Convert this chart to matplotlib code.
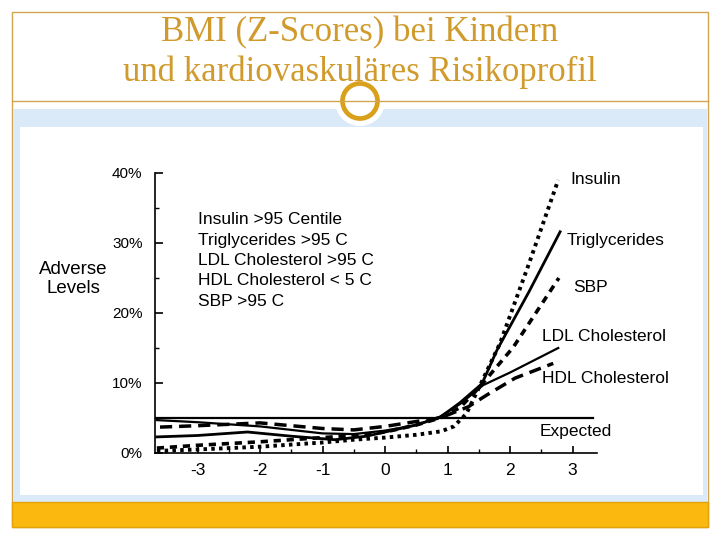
"""Slide: BMI z-score vs. share of children with adverse cardiovascular risk levels."""

import matplotlib

matplotlib.use("Agg")
import matplotlib.pyplot as plt
from matplotlib.patches import Circle, Rectangle
from matplotlib.ticker import MultipleLocator, FuncFormatter

plt.rcParams["font.family"] = ["Liberation Sans", "DejaVu Sans"]
plt.rcParams["axes.unicode_minus"] = False

# BMI z-score (x) vs. % of children with adverse levels (y)
insulin_z = [-3.65, -3.0, -2.0, -1.0, -0.5, 0.0, 0.5, 0.9, 1.1, 1.3, 1.5, 1.84, 2.3, 2.77]
insulin_pct = [0.3, 0.5, 0.9, 1.5, 1.9, 2.2, 2.6, 3.1, 3.8, 5.6, 9.3, 15.7, 27.0, 39.0]

trig_z = [-3.65, -3.0, -2.2, -1.5, -0.8, -0.3, 0.0, 0.5, 0.88, 1.2, 1.55, 1.79, 2.3, 2.8]
trig_pct = [2.3, 2.5, 3.0, 2.4, 1.9, 2.4, 3.0, 4.0, 5.1, 7.2, 9.9, 14.7, 23.0, 31.6]

ldl_z = [-3.65, -3.0, -2.0, -1.0, -0.5, 0.0, 0.5, 0.88, 1.2, 1.57, 2.0, 2.77]
ldl_pct = [4.7, 4.4, 3.8, 2.8, 2.7, 3.2, 4.0, 5.2, 7.0, 9.7, 11.5, 15.0]

hdl_z = [-3.6, -3.0, -2.0, -1.5, -1.0, -0.5, 0.0, 0.5, 0.88, 1.33, 1.63, 2.08, 2.69]
hdl_pct = [3.7, 3.9, 4.3, 3.9, 3.5, 3.3, 3.8, 4.5, 5.0, 6.6, 8.3, 10.7, 12.8]

sbp_z = [-3.65, -3.0, -2.0, -1.0, -0.5, 0.0, 0.5, 0.88, 1.2, 1.5, 2.05, 2.78]
sbp_pct = [0.7, 1.1, 1.6, 2.2, 2.5, 3.0, 4.0, 5.0, 6.5, 9.3, 15.1, 25.0]

expected_z = [-3.68, 3.33]
expected_pct = [5.0, 5.0]

legend_lines = [
    "Insulin >95 Centile",
    "Triglycerides >95 C",
    "LDL Cholesterol >95 C",
    "HDL Cholesterol < 5 C",
    "SBP >95 C",
]

title_lines = ["BMI (Z-Scores) bei Kindern", "und kardiovaskuläres Risikoprofil"]

GOLD = "#D09B2C"
FRAME = "#D2A650"
BLUE = "#DAEAF8"
BAR = "#FBB80F"

fig = plt.figure(figsize=(7.2, 5.4), dpi=100)

# slide decoration in pixel coordinates
bg = fig.add_axes([0, 0, 1, 1])
bg.set_xlim(0, 720)
bg.set_ylim(540, 0)
bg.axis("off")
bg.add_patch(Rectangle((12, 12), 696, 515, fill=False, edgecolor=FRAME, linewidth=1.0))
bg.plot([12, 708], [100.5, 100.5], color=FRAME, linewidth=1.0)
bg.add_patch(Rectangle((13, 109), 694, 393, facecolor=BLUE, edgecolor="none"))
bg.add_patch(Rectangle((20, 127), 683, 368, facecolor="white", edgecolor="none"))
bg.add_patch(Rectangle((12, 502), 696, 25, facecolor=BAR, edgecolor="#E2A30A", linewidth=1.0))
bg.add_patch(Circle((360, 101), 25, facecolor="white", edgecolor="none"))
bg.add_patch(Circle((360, 101), 17.5, facecolor="white", edgecolor="#D9A01C", linewidth=3.4))
for txt, base in zip(title_lines, [41, 81]):
    bg.text(360, base, txt, ha="center", va="baseline", fontsize=25,
            color=GOLD, family=["Liberation Serif", "DejaVu Serif"])

fig.text(73 / 720, 1 - 279 / 540, "Adverse\nLevels", ha="center", va="center",
         fontsize=13.5, linespacing=1.15)

ax = fig.add_axes([155 / 720, 1 - 453 / 540, 442 / 720, 280 / 540])
ax.patch.set_alpha(0)

ax.plot(insulin_z, insulin_pct, color="black", linewidth=2.8, linestyle=(0, (0.9, 1.1)))
ax.plot(trig_z, trig_pct, color="black", linewidth=2.0)
ax.plot(ldl_z, ldl_pct, color="black", linewidth=1.6)
ax.plot(hdl_z, hdl_pct, color="black", linewidth=2.5, linestyle=(0, (3.5, 2.0)))
ax.plot(sbp_z, sbp_pct, color="black", linewidth=2.6, linestyle=(0, (2.0, 1.6)))
ax.plot(expected_z, expected_pct, color="black", linewidth=1.6)

ax.set_xlim(-3.68, 3.39)
ax.set_ylim(0, 40)
ax.spines[["top", "right"]].set_visible(False)
for s in ("left", "bottom"):
    ax.spines[s].set_linewidth(1.2)

ax.xaxis.set_major_locator(MultipleLocator(1))
ax.xaxis.set_minor_locator(MultipleLocator(0.5))
ax.yaxis.set_major_locator(MultipleLocator(10))
ax.yaxis.set_minor_locator(MultipleLocator(5))
ax.yaxis.set_major_formatter(FuncFormatter(lambda v, _: f"{v:.0f}%"))
ax.tick_params(axis="y", which="major", direction="in", length=6, width=1.2,
               pad=9, labelsize=11)
ax.tick_params(axis="y", which="minor", direction="in", length=3, width=1.0)
ax.tick_params(axis="x", which="major", direction="in", length=5, width=1.2,
               pad=7, labelsize=12.5)
ax.tick_params(axis="x", which="minor", direction="in", length=3, width=1.0)

# legend block and curve labels (data coordinates)
for i, txt in enumerate(legend_lines):
    ax.text(-2.99, 33.3 - i * 2.9, txt, ha="left", va="center", fontsize=12.5)

curve_labels = [
    ("Insulin", 2.96, 39.0),
    ("Triglycerides", 2.91, 30.4),
    ("SBP", 3.01, 23.7),
    ("LDL Cholesterol", 2.51, 16.7),
    ("HDL Cholesterol", 2.51, 10.6),
    ("Expected", 2.48, 3.1),
]
for txt, zx, py in curve_labels:
    ax.text(zx, py, txt, ha="left", va="center", fontsize=12.5, clip_on=False)

fig.savefig("out.png", dpi=100)
